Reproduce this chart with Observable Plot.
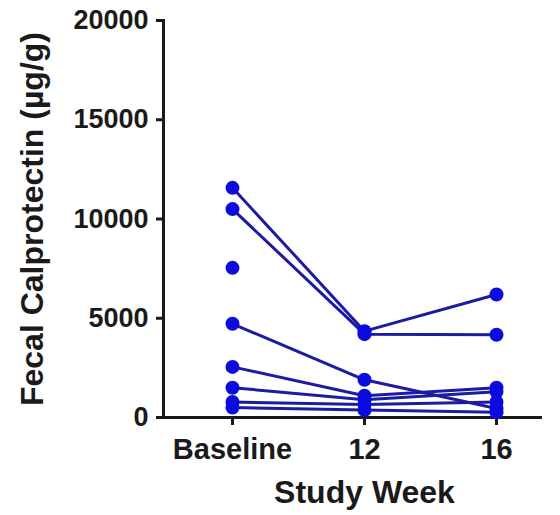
<!DOCTYPE html>
<html>
<head>
<meta charset="utf-8">
<script src="https://cdn.jsdelivr.net/npm/d3@7"></script>
<script src="https://cdn.jsdelivr.net/npm/@observablehq/plot@0.6"></script>
<style>
  html, body { margin: 0; padding: 0; background: #fff; }
</style>
</head>
<body>
<div id="chart"></div>
<script>
const weeks = ["Baseline", "12", "16"];
const subjects = ["S1", "S2", "S3", "S4", "S5", "S6", "S7", "S8"];
const baseline = [11570, 10500, 7540, 4720, 2550, 1500, 780, 500];
const week12   = [4350, 4200, null, 1900, 1100, 900, 650, 380];
const week16   = [6200, 4170, null, 450, 1500, 1300, 780, 260];
const yTicks = [0, 5000, 10000, 15000, 20000];

const series = [baseline, week12, week16];
const data = [];
subjects.forEach((s, i) => {
  weeks.forEach((w, j) => {
    data.push({subject: s, week: w, value: series[j][i]});
  });
});
const pts = data.filter(d => d.value != null);

const font = "'Liberation Sans', Arial, sans-serif";
const chart = Plot.plot({
  width: 560,
  height: 515,
  marginTop: 20,
  marginBottom: 98,
  marginLeft: 163,
  marginRight: 20,
  style: {fontFamily: font, fontWeight: "bold", color: "#1a1a1a", background: "#fff"},
  x: {type: "point", domain: weeks, range: [232, 496], padding: 0},
  y: {domain: [0, 20000]},
  marks: [
    Plot.axisY({ticks: yTicks, tickSize: 7, tickPadding: 8, tickFormat: d => String(d), fontSize: 27, strokeWidth: 3, label: null}),
    Plot.axisX({tickSize: 8, tickPadding: 13, fontSize: 29, strokeWidth: 3, label: null}),
    Plot.text(["Fecal Calprotectin (µg/g)"], {frameAnchor: "left", textAnchor: "middle", rotate: -90, dx: -131, fontSize: 32, fontWeight: "bold", fill: "#1a1a1a"}),
    Plot.text(["Study Week"], {x: () => "12", frameAnchor: "bottom", dy: 85, fontSize: 32, fontWeight: "bold", fill: "#1a1a1a"}),
    Plot.frame({anchor: "left", strokeWidth: 3, stroke: "#1a1a1a"}),
    Plot.frame({anchor: "bottom", strokeWidth: 3, stroke: "#1a1a1a"}),
    Plot.line(data, {x: "week", y: "value", z: "subject", stroke: "#1c1ca0", strokeWidth: 3}),
    Plot.dot(pts, {x: "week", y: "value", r: 7, fill: "#0b0be0", stroke: "none"})
  ]
});
document.getElementById("chart").appendChild(chart);
</script>
</body>
</html>
